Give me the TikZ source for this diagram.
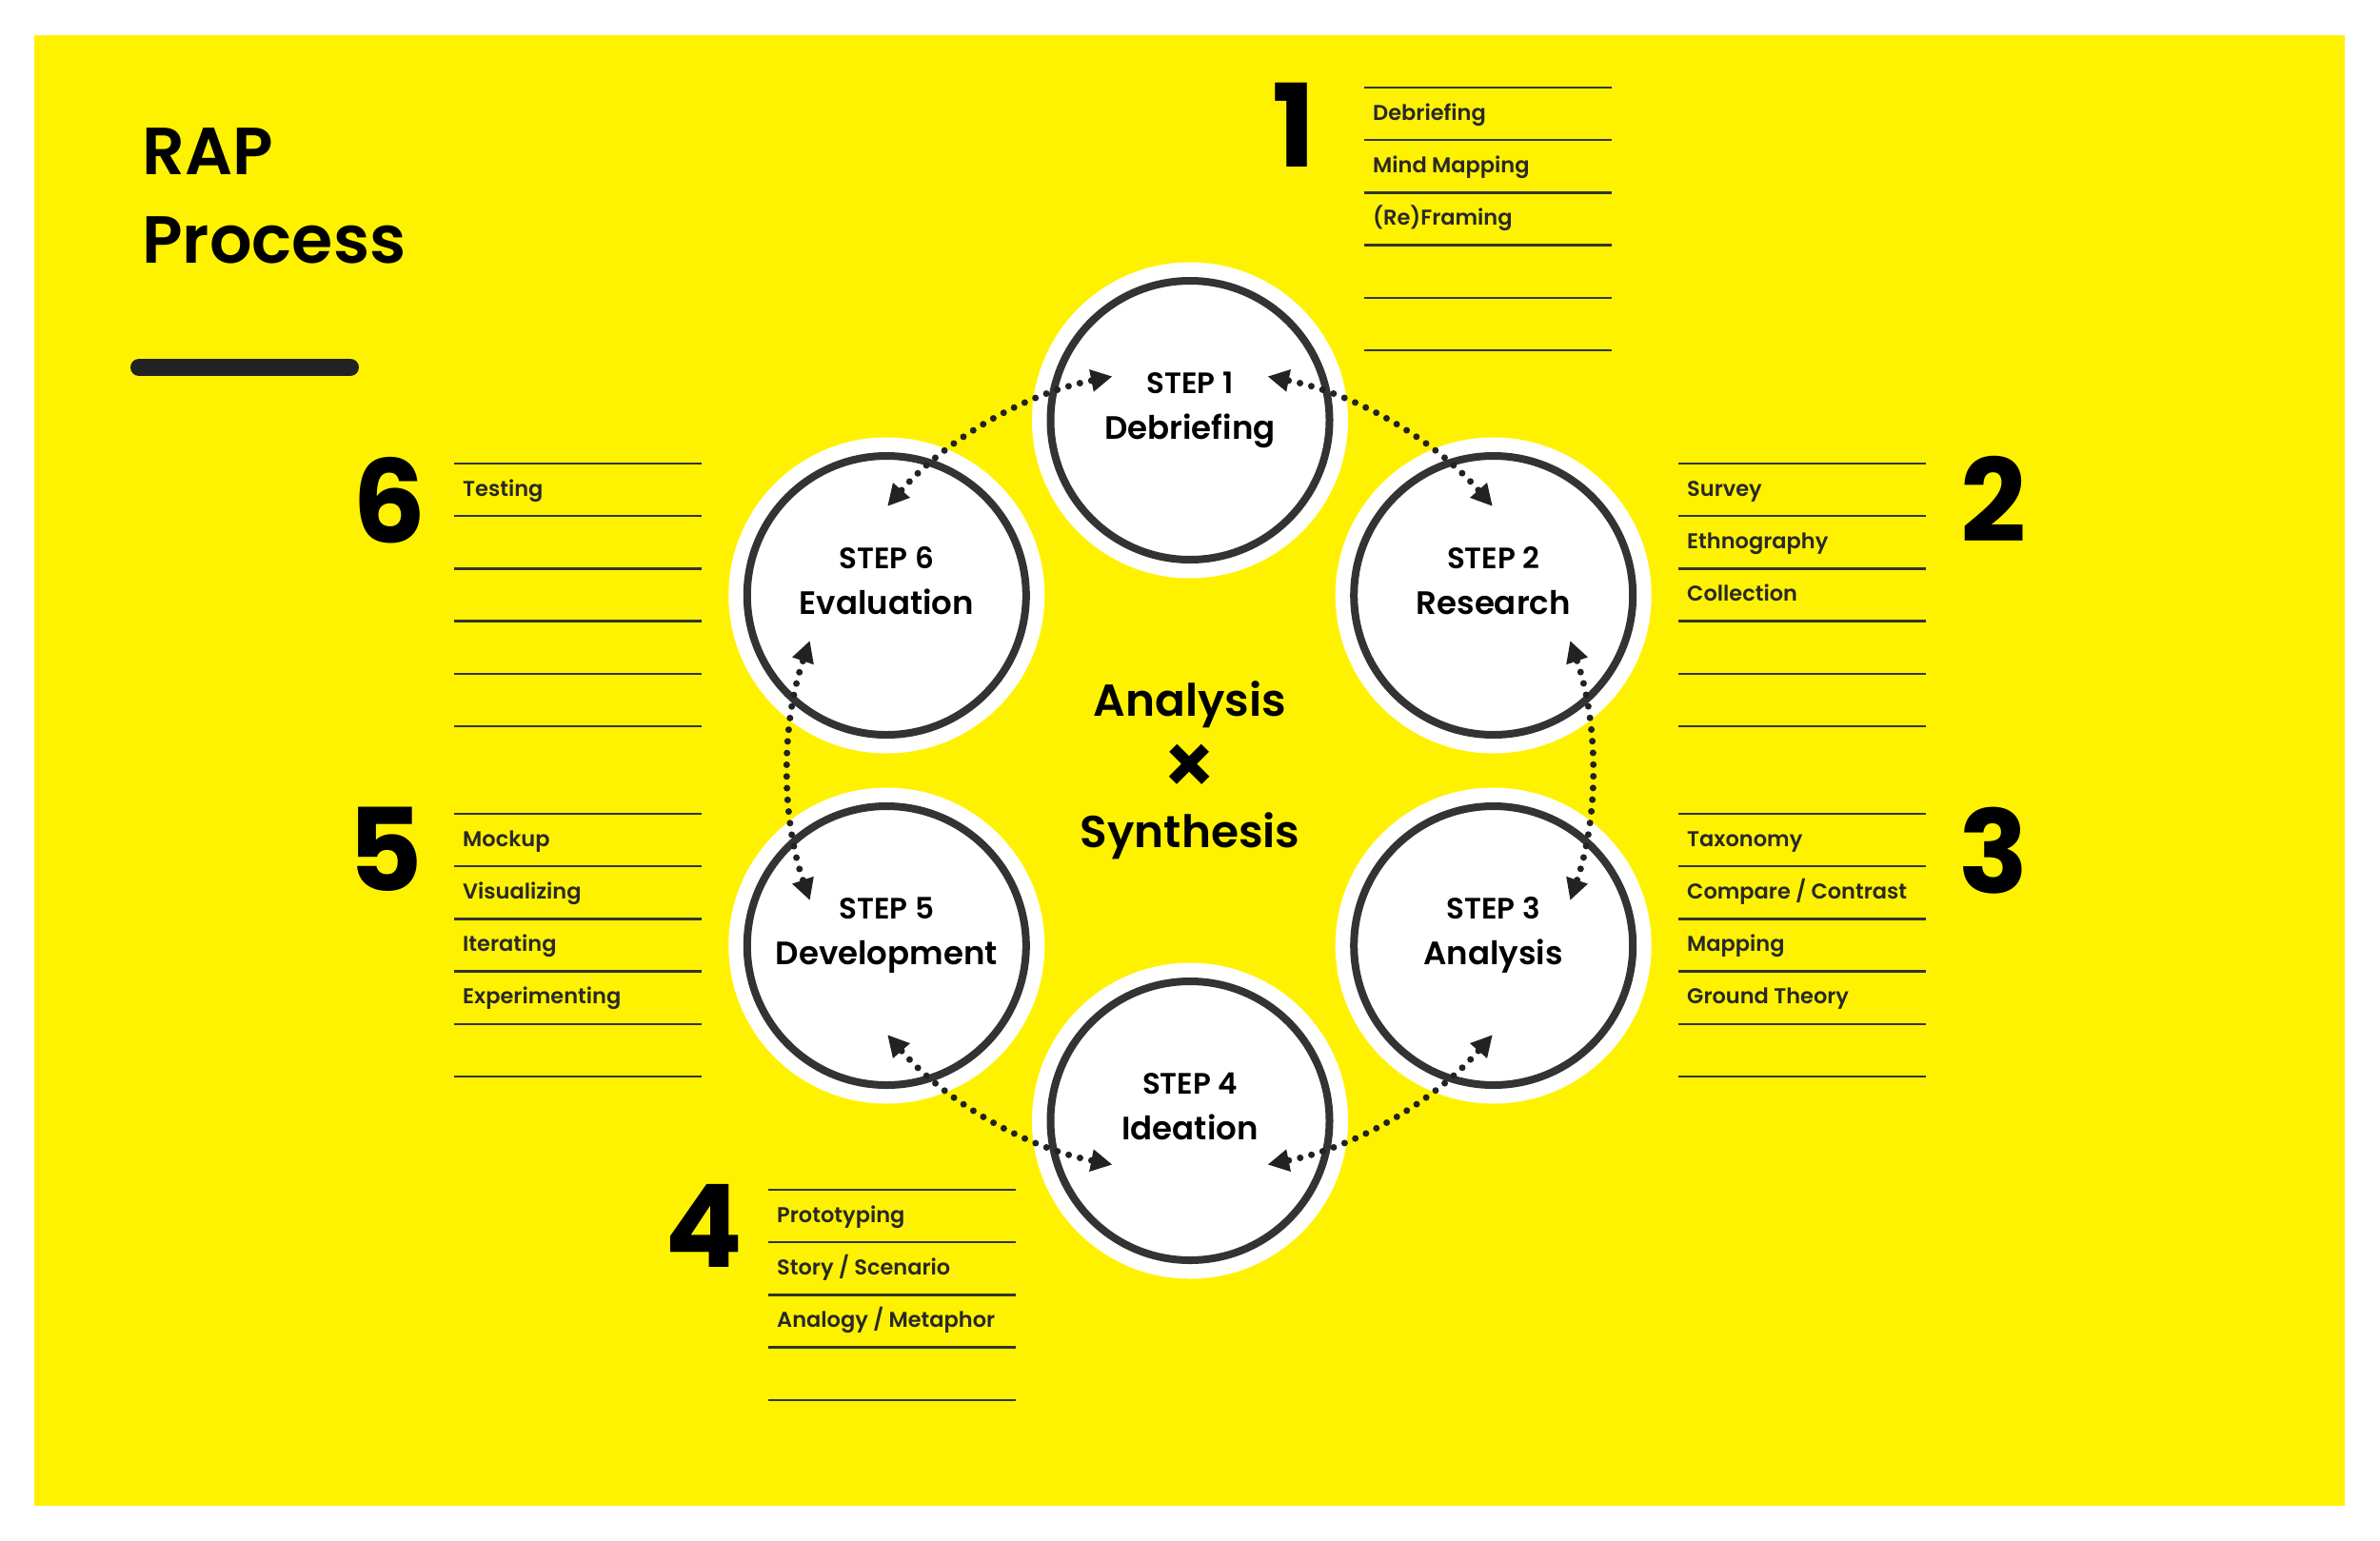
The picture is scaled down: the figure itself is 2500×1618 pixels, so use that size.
\documentclass[tikz,border=0pt]{standalone}
\usepackage{fontspec}
\setmainfont{Poppins}
\newfontfamily\fmed{Poppins Medium}
\newfontfamily\fsemi{Poppins SemiBold}
\newfontfamily\fbold{Poppins Bold}
\usetikzlibrary{arrows.meta,calc}
\definecolor{bgyellow}{RGB}{255,242,0}
\definecolor{ringgray}{RGB}{51,51,51}
\definecolor{inkgray}{RGB}{40,40,40}
\definecolor{dotgray}{RGB}{34,34,34}
\newcommand\rulelist[3]{%
  \foreach \i in {1,...,#3} {\draw[listline] (#1,{#2+55.2*(\i-1)}) -- ++(260,0);}}
\begin{document}
\begin{tikzpicture}[x=1pt,y=-1pt,
  listline/.style={draw=ringgray,line width=2.5pt},
  item/.style={anchor=base west,inner sep=0pt,font=\fsemi\fontsize{22.5}{22.5}\selectfont,text=inkgray},
  bignum/.style={anchor=base,inner sep=0pt,font=\fbold\fontsize{121}{121}\selectfont,text=black},
  halo/.style={circle,fill=white,minimum size=332pt,inner sep=0pt},
  stepring/.style={circle,draw=ringgray,line width=8pt,fill=white,minimum size=293pt,inner sep=0pt},
  steptag/.style={anchor=base,inner sep=0pt,font=\fsemi\fontsize{31}{31}\selectfont,text=black},
  stepname/.style={anchor=base,inner sep=0pt,font=\fsemi\fontsize{34}{34}\selectfont,text=black},
  centertext/.style={anchor=base,inner sep=0pt,font=\fsemi\fontsize{47}{47}\selectfont,text=black},
  cyclearrow/.style={draw=dotgray,line width=7pt,line cap=round,dash pattern=on 0pt off 12.3pt,
    {Triangle[length=22pt,width=24pt,line width=0pt]}-{Triangle[length=22pt,width=24pt,line width=0pt]}}
]
\useasboundingbox (0,0) rectangle (2500,1618);
\fill[white] (0,0) rectangle (2500,1618);
\fill[bgyellow] (36,37) rectangle (2463,1582);

% title
\node[anchor=base west,inner sep=0pt,font=\fsemi\fontsize{70}{70}\selectfont] (rap) at (149,183) {RAP};
\node[anchor=base west,inner sep=0pt,font=\fsemi\fontsize{70}{70}\selectfont] (process) at (149,276) {Process};
\draw[line width=18pt,line cap=round,draw=dotgray] (146,386) -- (368,386);

% circles
\coordinate (C) at (1250,809.5);
\foreach \k/\t in {1/-90,2/-30,3/30,4/90,5/150,6/210} {
  \node[halo] (h\k) at ($(C)+(\t:368)$) {};
}
\foreach \k in {1,...,6} {
  \node[stepring] (s\k) at (h\k) {};
}

% dotted cycle arrows
\foreach \k/\a in {1/-78.8,2/-18.8,3/41.2,4/101.2,5/161.2,6/221.2} {
  \coordinate (a\k) at ($(C)+(\a:422)$);
  \draw[cyclearrow] (a\k) arc[start angle=\a, delta angle=37.6, radius=422];
}

% step texts
\foreach \k/\nm in {1/Debriefing,2/Research,3/Analysis,4/Ideation,5/Development,6/Evaluation} {
  \node[steptag] (t\k) at ($(s\k.center)+(0,-28)$) {STEP \k};
  \node[stepname] (n\k) at ($(s\k.center)+(0,20)$) {\nm};
}

% center
\node[centertext] (ana) at (1250,752) {Analysis};
\node[anchor=center,inner sep=0pt,font=\fsemi\fontsize{90}{90}\selectfont] (times) at (1250,809) {×};
\node[centertext] (syn) at (1250,890) {Synthesis};

% lists
\rulelist{1433}{92}{6}
\rulelist{1763}{487}{6}
\rulelist{1763}{855}{6}
\rulelist{807}{1250}{5}
\rulelist{477}{855}{6}
\rulelist{477}{487}{6}

\node[item] (l1a) at (1442,126) {Debriefing};
\node[item] (l1b) at (1442,181.2) {Mind Mapping};
\node[item] (l1c) at (1442,236.4) {(Re)Framing};

\node[item] (l2a) at (1772,521) {Survey};
\node[item] (l2b) at (1772,576.2) {Ethnography};
\node[item] (l2c) at (1772,631.4) {Collection};

\node[item] (l3a) at (1772,889) {Taxonomy};
\node[item] (l3b) at (1772,944.2) {Compare / Contrast};
\node[item] (l3c) at (1772,999.4) {Mapping};
\node[item] (l3d) at (1772,1054.6) {Ground Theory};

\node[item] (l4a) at (816,1284) {Prototyping};
\node[item] (l4b) at (816,1339.2) {Story / Scenario};
\node[item] (l4c) at (816,1394.4) {Analogy / Metaphor};

\node[item] (l5a) at (486,889) {Mockup};
\node[item] (l5b) at (486,944.2) {Visualizing};
\node[item] (l5c) at (486,999.4) {Iterating};
\node[item] (l5d) at (486,1054.6) {Experimenting};

\node[item] (l6a) at (486,521) {Testing};

% numbers
\node[bignum] (num1) at (1359,175) {1};
\node[bignum] (num2) at (2094,569) {2};
\node[bignum] (num3) at (2094,938) {3};
\node[bignum] (num4) at (739,1331) {4};
\node[bignum] (num5) at (405,936) {5};
\node[bignum] (num6) at (409,570) {6};
\end{tikzpicture}
\end{document}
